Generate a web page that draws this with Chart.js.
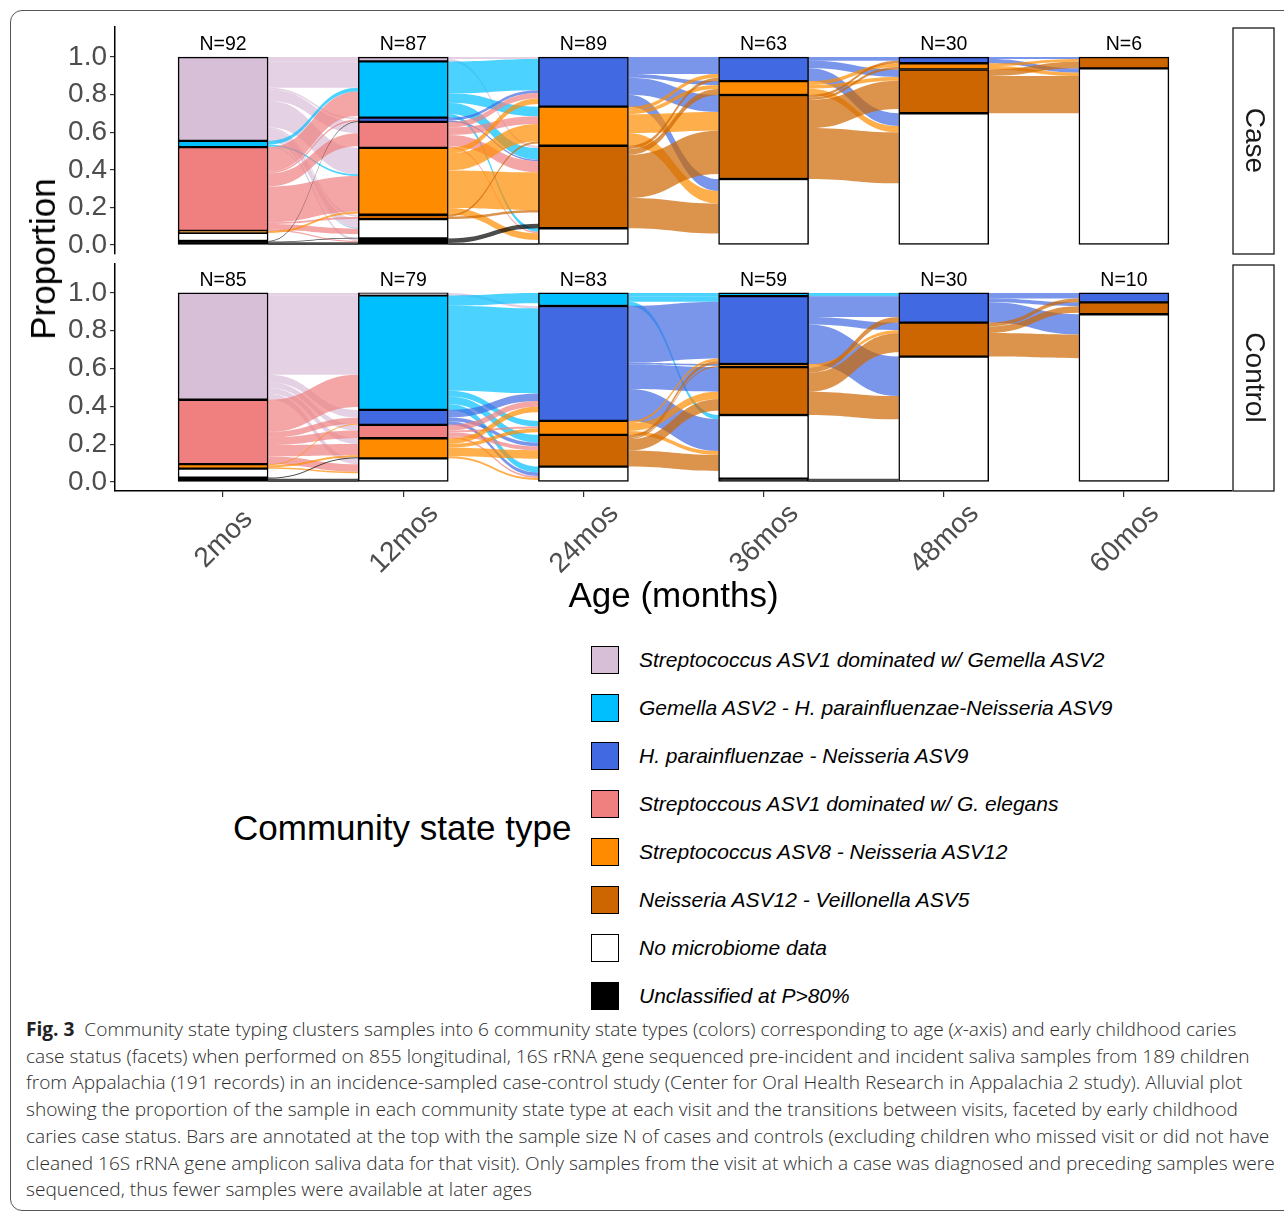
<!DOCTYPE html>
<html>
<head>
<meta charset="utf-8">
<script src="https://cdn.jsdelivr.net/npm/chart.js@4.4.1/dist/chart.umd.min.js"></script>
<style>
  body { margin: 0; background: #fff; width: 1284px; height: 1211px; overflow: hidden; position: relative;
         font-family: "Liberation Sans", Arial, sans-serif; }
  #frame { position: absolute; left: 10px; top: 10px; width: 1330px; height: 1201px; border: 1px solid #555;
           border-radius: 12px; box-sizing: border-box; }
  canvas { position: absolute; left: 0; }
  #c1 { top: 0; }
  #c2 { top: 254px; }
  #ylab { position: absolute; left: 43px; top: 259px; transform: translate(-50%, -50%) rotate(-90deg);
          font-size: 35px; white-space: nowrap; color: #000; }
  #ltitle { position: absolute; left: 233px; top: 828px; transform: translateY(-50%); font-size: 35px; color: #000; white-space: nowrap; }
  .key { position: absolute; left: 591px; width: 28px; height: 28px; box-sizing: border-box; border: 1.5px solid #000; }
  .klab { position: absolute; left: 639px; font-size: 21px; font-style: italic; transform: translateY(-50%); white-space: nowrap; color: #000; }
  #caption { position: absolute; left: 26px; top: 1016px; font-family: "Open Sans", sans-serif; font-size: 19.1px;
             line-height: 26.7px; color: #2b2b2b; white-space: nowrap; font-weight: 300; }
  #caption b { font-weight: 700; color: #222; }
</style>
</head>
<body>
<div id="frame"></div>
<canvas id="c1" width="1284" height="262"></canvas>
<canvas id="c2" width="1284" height="380"></canvas>
<div id="ylab">Proportion</div>
<div id="legend"></div>
<div id="caption"><b>Fig. 3</b>&nbsp; Community state typing clusters samples into 6 community state types (colors) corresponding to age (<i>x</i>-axis) and early childhood caries<br>case status (facets) when performed on 855 longitudinal, 16S rRNA gene sequenced pre-incident and incident saliva samples from 189 children<br>from Appalachia (191 records) in an incidence-sampled case-control study (Center for Oral Health Research in Appalachia 2 study). Alluvial plot<br>showing the proportion of the sample in each community state type at each visit and the transitions between visits, faceted by early childhood<br>caries case status. Bars are annotated at the top with the sample size N of cases and controls (excluding children who missed visit or did not have<br>cleaned 16S rRNA gene amplicon saliva data for that visit). Only samples from the visit at which a case was diagnosed and preceding samples were<br>sequenced, thus fewer samples were available at later ages</div>
<script>
// ages on the x axis
const ages = ['2mos', '12mos', '24mos', '36mos', '48mos', '60mos'];

// community state types, top of the stack first
const stateNames = [
    'Streptococcus ASV1 dominated w/ Gemella ASV2',
    'Gemella ASV2 - H. parainfluenzae-Neisseria ASV9',
    'H. parainfluenzae - Neisseria ASV9',
    'Streptoccous ASV1 dominated w/ G. elegans',
    'Streptococcus ASV8 - Neisseria ASV12',
    'Neisseria ASV12 - Veillonella ASV5',
    'No microbiome data',
    'Unclassified at P>80%'
];
const stateColors = ['#D8BFD8', '#00BFFF', '#4169E1', '#F08080', '#FF8C00', '#CD6600', '#FFFFFF', '#000000'];

// sample sizes shown above the bars
const caseN = [92, 87, 89, 63, 30, 6];
const controlN = [85, 79, 83, 59, 30, 10];

// proportion of each state (rows, same order as stateNames) at each age (columns)
const caseShares = [
    [0.446, 0.023, 0,     0,     0,     0],
    [0.033, 0.299, 0,     0,     0,     0],
    [0,     0.023, 0.264, 0.128, 0.033, 0],
    [0.446, 0.138, 0,     0,     0,     0],
    [0.011, 0.356, 0.208, 0.074, 0.033, 0],
    [0,     0.023, 0.439, 0.447, 0.233, 0.06],
    [0.043, 0.103, 0.089, 0.351, 0.701, 0.94],
    [0.021, 0.035, 0,     0,     0,     0]
];
const controlShares = [
    [0.565, 0.013, 0,     0,     0,     0],
    [0,     0.606, 0.069, 0.017, 0,     0],
    [0,     0.079, 0.608, 0.359, 0.157, 0.05],
    [0.341, 0.071, 0,     0,     0,     0],
    [0.024, 0.106, 0.074, 0.017, 0,     0],
    [0,     0,     0.168, 0.253, 0.18,  0.063],
    [0.047, 0.125, 0.081, 0.337, 0.663, 0.887],
    [0.023, 0,     0,     0.017, 0,     0]
];

// transitions between neighbouring ages: [from state, to state, share]
const caseFlows = [
    [[0,0,.023],[0,1,.14],[0,2,.01],[0,3,.06],[0,4,.14],[0,5,.01],[0,6,.05],[0,7,.013],
     [1,1,.02],[1,4,.01],[1,6,.003],
     [3,1,.13],[3,2,.01],[3,3,.07],[3,4,.19],[3,5,.01],[3,6,.03],[3,7,.006],
     [4,4,.011],
     [6,1,.009],[6,3,.008],[6,4,.005],[6,6,.02],[6,7,.001],
     [7,2,.003],[7,6,.004],[7,7,.015]],
    [[0,2,.01],[0,5,.013],
     [1,2,.17],[1,4,.05],[1,5,.06],[1,6,.019],
     [2,2,.015],[2,5,.008],
     [3,2,.03],[3,4,.04],[3,5,.06],[3,6,.008],
     [4,2,.03],[4,4,.09],[4,5,.2],[4,6,.036],
     [5,4,.01],[5,5,.013],
     [6,2,.015],[6,4,.012],[6,5,.06],[6,6,.016],
     [7,5,.024],[7,6,.01]],
    [[2,2,.09],[2,4,.02],[2,5,.09],[2,6,.064],
     [4,2,.02],[4,4,.02],[4,5,.1],[4,6,.068],
     [5,2,.018],[5,4,.03],[5,5,.23],[5,6,.161],
     [6,5,.027],[6,6,.062]],
    [[2,2,.02],[2,5,.04],[2,6,.068],
     [4,4,.02],[4,5,.02],[4,6,.034],
     [5,2,.013],[5,4,.013],[5,5,.15],[5,6,.271],
     [6,5,.023],[6,6,.328]],
    [[2,5,.01],[2,6,.023],[4,5,.015],[4,6,.018],[5,5,.035],[5,6,.198],[6,6,.70]]
];
const controlFlows = [
    [[0,0,.013],[0,1,.42],[0,2,.04],[0,3,.03],[0,4,.03],[0,6,.032],
     [3,1,.17],[3,2,.03],[3,3,.04],[3,4,.06],[3,6,.041],
     [4,2,.006],[4,4,.01],[4,6,.008],
     [6,1,.016],[6,6,.031],
     [7,4,.006],[7,6,.017]],
    [[0,2,.013],
     [1,1,.055],[1,2,.45],[1,4,.03],[1,5,.04],[1,6,.031],
     [2,2,.04],[2,5,.02],[2,6,.019],
     [3,2,.03],[3,4,.01],[3,5,.021],[3,6,.01],
     [4,2,.03],[4,4,.02],[4,5,.045],[4,6,.011],
     [6,1,.014],[6,2,.045],[6,4,.014],[6,5,.042],[6,6,.01]],
    [[1,1,.017],[1,2,.03],[1,6,.022],
     [2,2,.3],[2,4,.01],[2,5,.13],[2,6,.168],
     [4,2,.013],[4,5,.04],[4,6,.021],
     [5,2,.016],[5,4,.007],[5,5,.06],[5,6,.085],
     [6,5,.023],[6,6,.041],[6,7,.017]],
    [[1,2,.017],
     [2,2,.11],[2,5,.04],[2,6,.209],
     [4,5,.017],
     [5,2,.03],[5,5,.1],[5,6,.123],
     [6,5,.023],[6,6,.314],
     [7,6,.017]],
    [[2,2,.03],[2,5,.02],[2,6,.107],
     [5,2,.02],[5,5,.035],[5,6,.125],
     [6,5,.008],[6,6,.655]]
];

const family = '"Liberation Sans", Arial, sans-serif';

function hexToRgba(hex, a) {
    const n = parseInt(hex.slice(1), 16);
    return 'rgba(' + (n >> 16 & 255) + ',' + (n >> 8 & 255) + ',' + (n & 255) + ',' + a + ')';
}

// stacked bars: Chart.js stacks from the bottom, so push states in reverse
function makeDatasets(shares) {
    const ds = [];
    for (let s = stateNames.length - 1; s >= 0; s--) {
        ds.push({
            label: stateNames[s],
            data: shares[s].map((v, i) => ({ x: i, y: v > 0 ? v : null })),
            backgroundColor: stateColors[s],
            borderColor: '#000',
            borderWidth: 1.5,
            borderSkipped: false,
            barThickness: 90,
            stack: 'cst'
        });
    }
    return ds;
}

// alluvial flows between the bars, laid out on the chart's own scales
function flowPlugin(shares, flows) {
    return {
        id: 'flows',
        beforeDatasetsDraw(chart) {
            const ctx = chart.ctx, xs = chart.scales.x, ys = chart.scales.y;
            let half = 45;
            chart.getSortedVisibleDatasetMetas().forEach(m => m.data.forEach(b => {
                if (isFinite(b.width) && b.width > 0) half = b.width / 2;
            }));
            const top = (s, a) => {
                let t = 1;
                for (let k = 0; k < s; k++) t -= shares[k][a];
                return t;
            };
            flows.forEach((list, g) => {
                const rowSum = {}, colSum = {};
                list.forEach(f => {
                    rowSum[f[0]] = (rowSum[f[0]] || 0) + f[2];
                    colSum[f[1]] = (colSum[f[1]] || 0) + f[2];
                });
                const left = {}, right = {};
                // leaving: ordered by destination state
                for (let s = 0; s < stateNames.length; s++) {
                    let y = top(s, g);
                    list.filter(f => f[0] === s).sort((a, b) => a[1] - b[1]).forEach(f => {
                        const h = f[2] / rowSum[s] * shares[s][g];
                        left[list.indexOf(f)] = [y, y - h];
                        y -= h;
                    });
                }
                // arriving: ordered by origin state
                for (let t = 0; t < stateNames.length; t++) {
                    let y = top(t, g + 1);
                    list.filter(f => f[1] === t).sort((a, b) => a[0] - b[0]).forEach(f => {
                        const h = f[2] / colSum[t] * shares[t][g + 1];
                        right[list.indexOf(f)] = [y, y - h];
                        y -= h;
                    });
                }
                const x0 = xs.getPixelForValue(g) + half;
                const x1 = xs.getPixelForValue(g + 1) - half;
                const xm = (x0 + x1) / 2;
                const order = list.map((f, i) => i).sort((a, b) => {
                    const wa = list[a][0] === 6 ? -1 : 0, wb = list[b][0] === 6 ? -1 : 0;
                    return wa - wb;
                });
                order.forEach(i => {
                    const f = list[i];
                    const l = left[i], r = right[i];
                    const lt = ys.getPixelForValue(l[0]), lb = ys.getPixelForValue(l[1]);
                    const rt = ys.getPixelForValue(r[0]), rb = ys.getPixelForValue(r[1]);
                    ctx.save();
                    ctx.beginPath();
                    ctx.moveTo(x0, lt);
                    ctx.bezierCurveTo(xm, lt, xm, rt, x1, rt);
                    ctx.lineTo(x1, rb);
                    ctx.bezierCurveTo(xm, rb, xm, lb, x0, lb);
                    ctx.closePath();
                    ctx.fillStyle = hexToRgba(stateColors[f[0]], 0.7);
                    ctx.fill();
                    ctx.restore();
                });
            });
        }
    };
}

// N labels above the bars, age labels under the axis and the facet strip on the right
function decorPlugin(nList, facet, showX) {
    return {
        id: 'decor',
        afterDraw(chart) {
            const ctx = chart.ctx, xs = chart.scales.x, ys = chart.scales.y, area = chart.chartArea;
            ctx.save();
            ctx.fillStyle = '#000';
            ctx.font = '19.5px ' + family;
            ctx.textAlign = 'center';
            ctx.textBaseline = 'bottom';
            nList.forEach((n, i) => {
                ctx.fillText('N=' + n, xs.getPixelForValue(i), ys.getPixelForValue(1) - 3);
            });
            if (showX) {
                ctx.fillStyle = '#4D4D4D';
                ctx.font = '28px ' + family;
                ctx.textBaseline = 'middle';
                ages.forEach((a, i) => {
                    ctx.save();
                    ctx.translate(xs.getPixelForValue(i) + 1, area.bottom + 48);
                    ctx.rotate(-Math.PI / 4);
                    ctx.fillText(a, 0, 0);
                    ctx.restore();
                });
            }
            ctx.strokeStyle = '#1A1A1A';
            ctx.lineWidth = 1.3;
            ctx.fillStyle = '#fff';
            ctx.fillRect(area.right + 1, area.top + 1, 41, area.bottom - area.top);
            ctx.strokeRect(area.right + 1, area.top + 1, 41, area.bottom - area.top - 1);
            ctx.translate(area.right + 21.5, (area.top + area.bottom) / 2);
            ctx.rotate(Math.PI / 2);
            ctx.fillStyle = '#1A1A1A';
            ctx.font = '28px ' + family;
            ctx.textBaseline = 'middle';
            ctx.fillText(facet, 0, 0);
            ctx.restore();
        }
    };
}

function makeChart(id, shares, flows, nList, facet, showX, yMax, padTop, xHeight) {
    return new Chart(document.getElementById(id), {
        type: 'bar',
        data: { datasets: makeDatasets(shares) },
        options: {
            responsive: false,
            animation: false,
            events: [],
            layout: { padding: { left: 0, right: 52, top: padTop, bottom: showX ? 0 : 8 } },
            plugins: { legend: { display: false }, tooltip: { enabled: false } },
            scales: {
                x: {
                    type: 'linear',
                    min: -0.6,
                    max: 5.6,
                    stacked: true,
                    offset: false,
                    display: showX,
                    afterBuildTicks: s => { s.ticks = ages.map((a, i) => ({ value: i })); },
                    afterFit: s => {
                        if (showX) s.height = xHeight;
                        s.paddingLeft = 0; s.paddingRight = 0;
                    },
                    ticks: { display: false },
                    grid: { drawOnChartArea: false, offset: false, tickLength: 6, color: '#333', lineWidth: 1.2 },
                    border: { color: '#000', width: 1.5 },
                    title: {
                        display: true,
                        text: 'Age (months)',
                        color: '#000',
                        font: { size: 35, family: family },
                        padding: { top: 0, bottom: 16 }
                    }
                },
                y: {
                    min: -0.048,
                    max: yMax,
                    stacked: true,
                    afterBuildTicks: s => { s.ticks = [0, 0.2, 0.4, 0.6, 0.8, 1].map(v => ({ value: v })); },
                    afterFit: s => { s.width = 115; s.paddingTop = 0; s.paddingBottom = 0; },
                    ticks: {
                        padding: 3,
                        color: '#4D4D4D',
                        font: { size: 28, family: family },
                        callback: v => v.toFixed(1)
                    },
                    grid: { drawOnChartArea: false, tickLength: 5, color: '#333', lineWidth: 1.2 },
                    border: { color: '#000', width: 1.5 }
                }
            }
        },
        plugins: [flowPlugin(shares, flows), decorPlugin(nList, facet, showX)]
    });
}

makeChart('c1', caseShares, caseFlows, caseN, 'Case', false, 1.16, 27, 0);
makeChart('c2', controlShares, controlFlows, controlN, 'Control', true, 1.153, 10, 143);

// legend, built from the same state list
const legend = document.getElementById('legend');
const title = document.createElement('div');
title.id = 'ltitle';
title.textContent = 'Community state type';
legend.appendChild(title);
stateNames.forEach((name, i) => {
    const cy = 660 + i * 48;
    const key = document.createElement('div');
    key.className = 'key';
    key.style.top = (cy - 14) + 'px';
    key.style.background = stateColors[i];
    legend.appendChild(key);
    const lab = document.createElement('div');
    lab.className = 'klab';
    lab.style.top = cy + 'px';
    lab.textContent = name;
    legend.appendChild(lab);
});
</script>
</body>
</html>
